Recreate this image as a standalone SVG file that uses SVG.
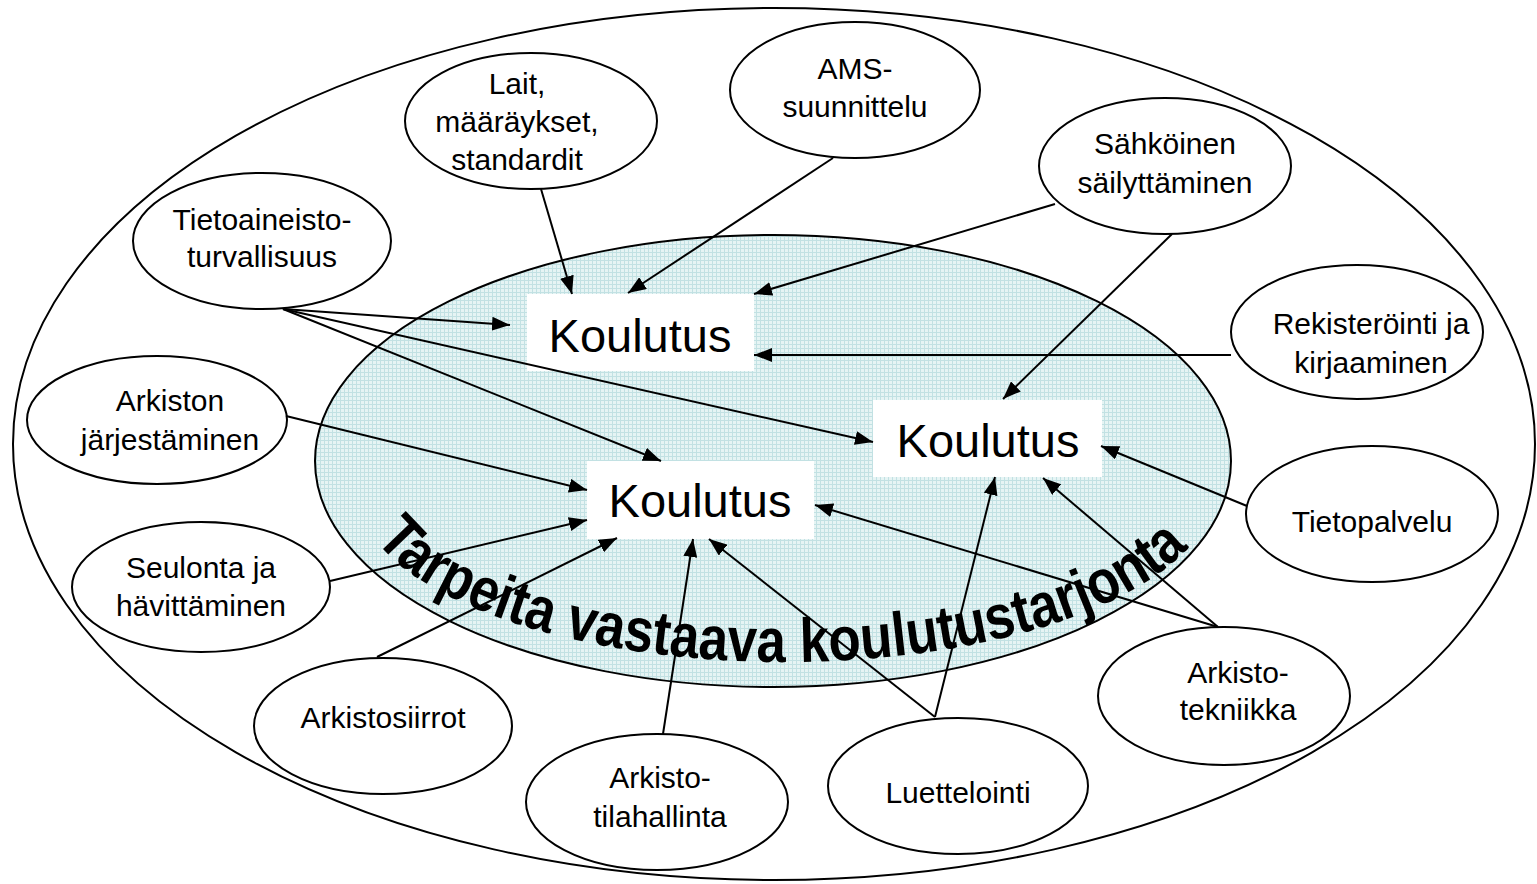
<svg xmlns="http://www.w3.org/2000/svg" width="1537" height="884" viewBox="0 0 1537 884">
<style>
.ell{fill:#ffffff;stroke:#000;stroke-width:2}
.lbl{font-family:"Liberation Sans",Arial,sans-serif;font-size:30px;fill:#000;text-anchor:middle}
.kou{font-family:"Liberation Sans",Arial,sans-serif;font-size:47px;fill:#000;text-anchor:middle}
.box{fill:#ffffff;stroke:none}
.con{stroke:#000;stroke-width:2;fill:none;marker-end:url(#ah)}
</style>
<defs>
<pattern id="grid" width="4" height="4" patternUnits="userSpaceOnUse">
<rect width="4" height="4" fill="#e6f4f4"/>
<path d="M0,0.5 H4 M0.5,0 V4" stroke="#c2e1e3" stroke-width="1"/>
</pattern>
<marker id="ah" markerUnits="userSpaceOnUse" markerWidth="18" markerHeight="14" refX="18" refY="7" orient="auto">
<path d="M0,0 L18,7 L0,14 z" fill="#000"/>
</marker>
<path id="arc" d="M375,539.7 A430,175 0 0,0 1195,539.7"/>
</defs>
<rect width="1537" height="884" fill="#ffffff"/>
<ellipse id="outer" cx="774" cy="444" rx="761" ry="436" fill="none" stroke="#000" stroke-width="2"/>
<ellipse id="inner" cx="773" cy="461" rx="458" ry="226" fill="url(#grid)" stroke="#000" stroke-width="2"/>
<text font-family="'Liberation Sans',Arial,sans-serif" font-size="62" font-weight="bold" fill="#000"><textPath href="#arc" textLength="868" lengthAdjust="spacingAndGlyphs">Tarpeita vastaava koulutustarjonta</textPath></text>
<g id="koulutus1"><rect class="box" x="527" y="294" width="227" height="77"/><text class="kou" x="640" y="352">Koulutus</text></g>
<g id="koulutus2"><rect class="box" x="587" y="461" width="227" height="78"/><text class="kou" x="700" y="517">Koulutus</text></g>
<g id="koulutus3"><rect class="box" x="873" y="400" width="229" height="77"/><text class="kou" x="988" y="457">Koulutus</text></g>
<g id="lait"><ellipse class="ell" cx="531" cy="121" rx="126" ry="68"/><text class="lbl" x="517" y="94">Lait,</text><text class="lbl" x="517" y="132">määräykset,</text><text class="lbl" x="517" y="170">standardit</text></g>
<g id="tietoaineisto"><ellipse class="ell" cx="262" cy="241" rx="129" ry="68"/><text class="lbl" x="262" y="230">Tietoaineisto-</text><text class="lbl" x="262" y="267">turvallisuus</text></g>
<g id="ams"><ellipse class="ell" cx="855" cy="90" rx="125" ry="68"/><text class="lbl" x="855" y="79">AMS-</text><text class="lbl" x="855" y="117">suunnittelu</text></g>
<g id="sahkoinen"><ellipse class="ell" cx="1165" cy="166" rx="126" ry="68"/><text class="lbl" x="1165" y="154">Sähköinen</text><text class="lbl" x="1165" y="193">säilyttäminen</text></g>
<g id="rekisterointi"><ellipse class="ell" cx="1357" cy="332" rx="126" ry="67"/><text class="lbl" x="1371" y="334">Rekisteröinti ja</text><text class="lbl" x="1371" y="373">kirjaaminen</text></g>
<g id="arkiston"><ellipse class="ell" cx="157" cy="420" rx="130" ry="64"/><text class="lbl" x="170" y="411">Arkiston</text><text class="lbl" x="170" y="450">järjestäminen</text></g>
<g id="seulonta"><ellipse class="ell" cx="201" cy="587" rx="129" ry="65"/><text class="lbl" x="201" y="578">Seulonta ja</text><text class="lbl" x="201" y="616">hävittäminen</text></g>
<g id="arkistosiirrot"><ellipse class="ell" cx="383" cy="726" rx="129" ry="68"/><text class="lbl" x="383" y="728">Arkistosiirrot</text></g>
<g id="tilahallinta"><ellipse class="ell" cx="657" cy="802" rx="131" ry="68"/><text class="lbl" x="660" y="788">Arkisto-</text><text class="lbl" x="660" y="827">tilahallinta</text></g>
<g id="luettelointi"><ellipse class="ell" cx="958" cy="786" rx="130" ry="68"/><text class="lbl" x="958" y="803">Luettelointi</text></g>
<g id="tekniikka"><ellipse class="ell" cx="1224" cy="696" rx="126" ry="69"/><text class="lbl" x="1238" y="683">Arkisto-</text><text class="lbl" x="1238" y="720">tekniikka</text></g>
<g id="tietopalvelu"><ellipse class="ell" cx="1372" cy="514" rx="126" ry="68"/><text class="lbl" x="1372" y="532">Tietopalvelu</text></g>
<g id="connectors">
<line class="con" x1="541" y1="189" x2="572" y2="294"/>
<line class="con" x1="833" y1="158" x2="628" y2="293"/>
<line class="con" x1="1055" y1="204" x2="754" y2="294"/>
<line class="con" x1="1231" y1="355" x2="754" y2="355"/>
<line class="con" x1="1172" y1="234" x2="1003" y2="399"/>
<line class="con" x1="283" y1="309" x2="510" y2="325"/>
<line class="con" x1="283" y1="309" x2="661" y2="461"/>
<line class="con" x1="283" y1="309" x2="873" y2="442"/>
<line class="con" x1="286" y1="416" x2="587" y2="490"/>
<line class="con" x1="330" y1="581" x2="587" y2="520"/>
<line class="con" x1="377" y1="657" x2="617" y2="538"/>
<line class="con" x1="663" y1="734" x2="693" y2="539"/>
<line class="con" x1="935" y1="717" x2="709" y2="539"/>
<line class="con" x1="935" y1="717" x2="995" y2="477"/>
<line class="con" x1="1218" y1="627" x2="815" y2="505"/>
<line class="con" x1="1218" y1="627" x2="1043" y2="478"/>
<line class="con" x1="1247" y1="506" x2="1101" y2="446"/>
</g>
</svg>
